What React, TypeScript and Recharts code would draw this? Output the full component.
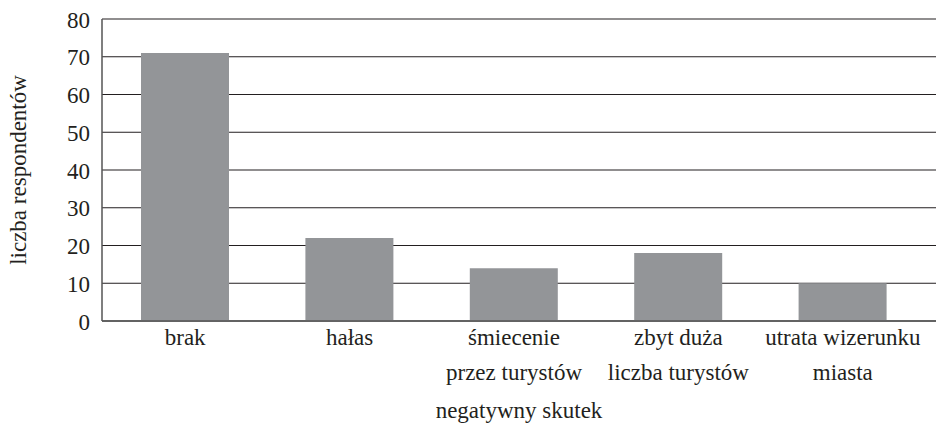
import { BarChart, Bar, XAxis, YAxis, CartesianGrid } from "recharts"

const CATEGORIES = [
  "brak",
  "hałas",
  "śmiecenie\nprzez turystów",
  "zbyt duża\nliczba turystów",
  "utrata wizerunku\nmiasta",
]
const COUNTS = [71, 22, 14, 18, 10]
const Y_TICKS = [0, 10, 20, 30, 40, 50, 60, 70, 80]

const FONT = "Liberation Serif"
const INK = "#231f20"

const data = CATEGORIES.map((name, i) => ({ name, count: COUNTS[i] }))

function CategoryTick({ x, y, payload }: any) {
  const lines = String(payload.value).split("\n")
  return (
    <text
      x={x}
      y={y}
      textAnchor="middle"
      style={{ fontFamily: FONT, fontSize: 23, fill: INK }}
    >
      {lines.map((l, i) => (
        <tspan key={i} x={x} dy={i === 0 ? 24 : 35}>
          {l}
        </tspan>
      ))}
    </text>
  )
}

function ValueTick({ x, y, payload }: any) {
  return (
    <text
      x={x}
      y={y}
      dy={8.5}
      textAnchor="end"
      style={{ fontFamily: FONT, fontSize: 23, fill: INK }}
    >
      {payload.value}
    </text>
  )
}

export default function App() {
  return (
    <div style={{ position: "absolute", left: 0, top: 0, background: "#fff" }}>
      <BarChart
        width={936}
        height={424}
        data={data}
        margin={{ top: 19, right: 0, bottom: 0, left: 0 }}
      >
        <CartesianGrid horizontal vertical={false} stroke={INK} strokeWidth={1.2} />
        <XAxis
          dataKey="name"
          height={103}
          padding={{ left: 1, right: 11 }}
          tick={<CategoryTick />}
          tickLine={false}
          tickSize={0}
          tickMargin={0}
          interval={0}
          axisLine={{ stroke: "#555", strokeWidth: 1.5 }}
          label={{
            value: "negatywny skutek",
            position: "insideBottom",
            offset: 6,
            style: { fontFamily: FONT, fontSize: 23, fill: INK },
          }}
        />
        <YAxis
          width={102}
          domain={[0, 80]}
          ticks={Y_TICKS}
          interval={0}
          tickLine={false}
          tickSize={0}
          tickMargin={12}
          axisLine={{ stroke: "#555", strokeWidth: 1.5 }}
          tick={<ValueTick />}
          label={{
            value: "liczba respondentów",
            angle: -90,
            position: "insideLeft",
            offset: 18,
            style: { fontFamily: FONT, fontSize: 23, fill: INK, textAnchor: "middle" },
          }}
        />
        <Bar dataKey="count" fill="#939598" barSize={88} isAnimationActive={false} />
      </BarChart>
    </div>
  )
}
